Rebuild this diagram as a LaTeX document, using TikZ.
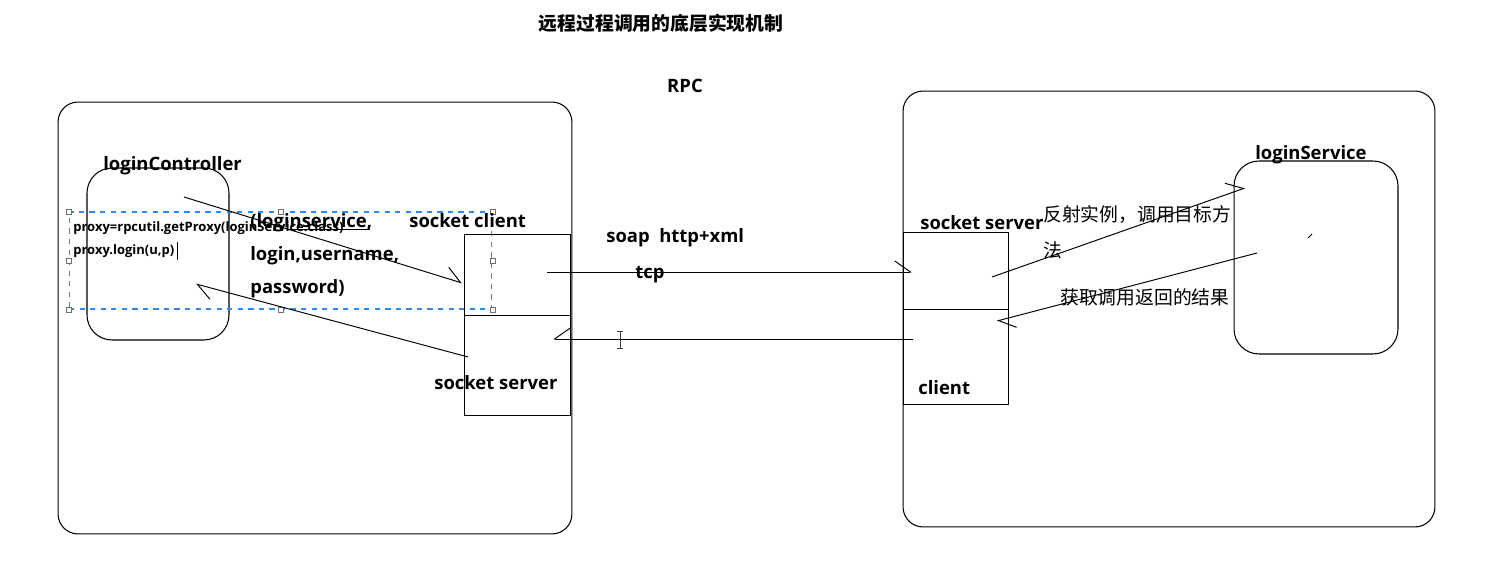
\documentclass[tikz,border=0pt]{standalone}
\usepackage{fontspec}
\setmainfont{Open Sans}
\newfontfamily\cjk{Noto Sans CJK SC}
\usetikzlibrary{arrows.meta}
\definecolor{selblue}{RGB}{40,140,240}
\definecolor{handlegray}{RGB}{110,110,110}
\begin{document}
\begin{tikzpicture}[x=0.02cm,y=-0.02cm,
  box/.style={draw, line width=0.5pt, inner sep=0, minimum width=#1},
  bigframe/.style={draw, line width=0.6pt, rounded corners=0.4cm, inner sep=0},
  roundbox/.style={draw, line width=0.6pt, rounded corners=0.5cm, inner sep=0},
  lbl/.style={font=\bfseries\fontsize{10.5}{12}\selectfont, inner sep=0, anchor=base west},
  small/.style={font=\bfseries\fontsize{7.4}{9}\selectfont, inner sep=0, anchor=west},
  cn/.style={font=\cjk\fontsize{10.7}{12}\selectfont, inner sep=0, anchor=west},
  cntitle/.style={font=\cjk\bfseries\fontsize{10.7}{12}\selectfont, inner sep=0},
  conn/.style={line width=0.55pt},
  barbL/.style={conn, -{Straight Barb[harpoon, angle'=70, length=9pt]}},
  barbR/.style={conn, -{Straight Barb[harpoon, swap, angle'=70, length=9pt]}},
  handle/.style={draw=handlegray, fill=white, line width=0.4pt, minimum size=0.1cm, inner sep=0},
  sel/.style={draw=selblue, dashed, line width=0.6pt, inner sep=0}]
\useasboundingbox (0,0) rectangle (1485,570);

% title
\node[cntitle] (title) at (661,23) {远程过程调用的底层实现机制};
\node[lbl, anchor=base] (rpc) at (685,93) {RPC};

% big frames
\node[bigframe, minimum width=10.28cm, minimum height=8.64cm] (left) at (315,318) {};
\node[bigframe, minimum width=10.64cm, minimum height=8.72cm] (right) at (1169,309) {};

% loginController
\node[roundbox, minimum width=2.84cm, minimum height=3.44cm] (ctrl) at (158,254) {};
\node[lbl] (ctrllbl) at (103,171) {loginController};

% selection rectangle with handles
\node[sel, minimum width=8.46cm, minimum height=1.94cm] (selr) at (280.5,260.5) {};
\foreach \a in {north west,north,north east,west,east,south west,south,south east}
  \node[handle] at (selr.\a) {};
\node[small] (code1) at (73,228) {proxy=rpcutil.getProxy(loginService.class)};
\node[small] (code2) at (73,251) {proxy.login(u,p)};
\draw[line width=0.5pt] (177,242) -- (177,260);

% left socket boxes
\node[box=2.12cm, minimum height=1.62cm] (lclient) at (517,274.5) {};
\node[box=2.12cm, minimum height=2cm] (lserver) at (517,365) {};
\node[lbl] (lclientlbl) at (409,228) {socket client};
\node[lbl] (lserverlbl) at (434,390) {socket server};

% params text
\node[lbl] (p1) at (250,228) {(loginservice,};
\node[lbl] (p2) at (250,261) {login,username,};
\node[lbl] (p3) at (250,294) {password)};
\draw[conn] (290,229) -- (370,229);

% right socket boxes
\node[box=2.1cm, minimum height=1.54cm] (rserver) at (955.5,270.5) {};
\node[box=2.1cm, minimum height=1.9cm] (rclient) at (955.5,356.5) {};
\node[lbl] (rserverlbl) at (920,230) {socket server};
\node[lbl] (rclientlbl) at (918,395) {client};

% loginService
\node[roundbox, minimum width=3.28cm, minimum height=3.86cm] (svc) at (1316,257.5) {};
\node[lbl] (svclbl) at (1255,160) {loginService};
\draw[conn] (1308,238) -- (1312,234);

% protocol labels
\node[lbl] (soap) at (606,243) {soap\ \ http+xml};
\node[lbl] (tcp) at (635,279) {tcp};

% chinese annotations
\node[cn] (ann1) at (1043,215) {反射实例，调用目标方};
\node[cn] (ann2) at (1043,250) {法};
\node[cn] (ann3) at (1060,297) {获取调用返回的结果};

% connector end points
\coordinate (c1s) at (184,197);
\coordinate (c1e) at (462,283);
\coordinate (c2s) at (468,357);
\coordinate (c2e) at (196,284);
\coordinate (c3s) at (547,272);
\coordinate (c3e) at (912,272);
\coordinate (c4s) at (913,339);
\coordinate (c4e) at (553,339);
\coordinate (c5s) at (992,277);
\coordinate (c5e) at (1245,188);
\coordinate (c6s) at (1257,253);
\coordinate (c6e) at (997,321);

\draw[barbL] (c1s) -- (c1e);
\draw[barbL] (c2s) -- (c2e);
\draw[barbL] (c3s) -- (c3e);
\draw[barbR] (c4s) -- (c4e);
\draw[barbL] (c5s) -- (c5e);
\draw[barbL] (c6s) -- (c6e);

% I-beam cursor
\draw[line width=0.5pt, draw=black!75] (620,331) -- (620,348)
  (617,331) -- (623,331) (617,348) -- (623,348);
\end{tikzpicture}
\end{document}
